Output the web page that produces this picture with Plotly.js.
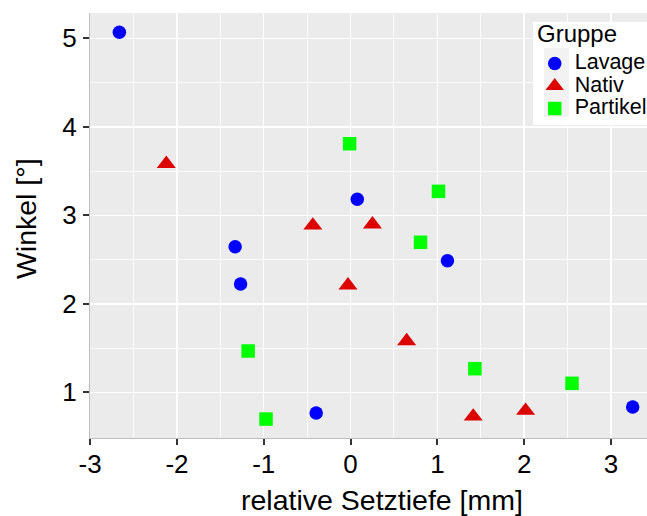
<!DOCTYPE html>
<html><head><meta charset="utf-8">
<script src="https://cdn.plot.ly/plotly-3.0.1.min.js"></script>
<style>body{margin:0;padding:0;background:#fff}#chart{width:647px;height:516px}</style>
</head><body><div id="chart"></div>
<script>
// Data
const groups = ["Lavage", "Nativ", "Partikel"];
const lavageX = [-2.664, -1.330, -1.267, 0.077, 1.116, -0.396, 3.250];
const lavageY = [5.068, 2.645, 2.224, 3.181, 2.487, 0.766, 0.834];
const nativX = [-2.123, -0.435, 0.252, -0.030, 0.646, 1.413, 2.016];
const nativY = [3.582, 2.886, 2.898, 2.209, 1.580, 0.728, 0.793];
const partikelX = [-0.011, 1.013, 0.806, -1.180, -0.974, 1.432, 2.551];
const partikelY = [3.809, 3.271, 2.695, 1.467, 0.698, 1.267, 1.102];
const xTicks = [-3, -2, -1, 0, 1, 2, 3];
const yTicks = [1, 2, 3, 4, 5];
const xTitle = "relative Setztiefe [mm]";
const yTitle = "Winkel [°]";
const legendTitle = "Gruppe";

const FONT = "Liberation Sans, Arial, sans-serif";
const lbl = s => '<span style="font-size:21.5px">' + s + '</span>';

const traces = [
  {x: lavageX, y: lavageY, name: lbl(groups[0]), type: "scatter", mode: "markers",
   marker: {symbol: "circle", size: 13.5, color: "#0000FF"}},
  {x: nativX, y: nativY, name: lbl(groups[1]), type: "scatter", mode: "markers",
   marker: {symbol: "triangle-up", size: 16.5, color: "#DD0000"}},
  {x: partikelX, y: partikelY, name: lbl(groups[2]), type: "scatter", mode: "markers",
   marker: {symbol: "square", size: 13.5, color: "#00FF00"}}
];

const axisCommon = {
  showgrid: true, gridcolor: "#FFFFFF", gridwidth: 1.4,
  zeroline: false,
  showline: true, linecolor: "#BDBDBD", linewidth: 1,
  ticks: "outside", ticklen: 6, tickwidth: 2, tickcolor: "#333333",
  tickfont: {family: FONT, size: 26, color: "#000000"},
  tickmode: "array"
};

const layout = {
  width: 647, height: 516,
  margin: {l: 90, r: 0, t: 13, b: 78, pad: 0, autoexpand: false},
  paper_bgcolor: "#FFFFFF", plot_bgcolor: "#EBEBEB",
  font: {family: FONT, color: "#000000"},
  xaxis: Object.assign({}, axisCommon, {
    range: [-3.002, 3.415], tickvals: xTicks, ticktext: xTicks.map(String),
    minor: {showgrid: true, gridcolor: "#FFFFFF", gridwidth: 0.8, tickvals: [-2.5,-1.5,-0.5,0.5,1.5,2.5], ticks: ""},
    ticklabelstandoff: -3
  }),
  yaxis: Object.assign({}, axisCommon, {
    range: [0.484, 5.286], tickvals: yTicks, ticktext: yTicks.map(String),
    minor: {showgrid: true, gridcolor: "#FFFFFF", gridwidth: 0.8, tickvals: [1.5,2.5,3.5,4.5], ticks: ""},
    ticklabelstandoff: 1
  }),
  annotations: [
    {text: xTitle, xref: "paper", yref: "paper", x: 0.525, y: -0.146, xanchor: "center", yanchor: "middle",
     showarrow: false, font: {family: FONT, size: 28.5, color: "#000"}},
    {text: yTitle, xref: "paper", yref: "paper", x: -0.116, y: 0.516, xanchor: "center", yanchor: "middle",
     textangle: -90, showarrow: false, font: {family: FONT, size: 28.5, color: "#000"}},
    {text: legendTitle, xref: "paper", yref: "paper", x: 0.7998, y: 0.9506, xanchor: "left", yanchor: "middle",
     showarrow: false, font: {family: FONT, size: 24, color: "#000"}}
  ],
  showlegend: true,
  legend: {
    xref: "container", yref: "container",
    x: 0.8265, y: 0.9085, xanchor: "left", yanchor: "top",
    bgcolor: "rgba(0,0,0,0)", borderwidth: 0,
    font: {family: FONT, size: 15, color: "#000"},
    tracegroupgap: 0, itemsizing: "trace"
  },
  shapes: [
    {type: "rect", xref: "paper", yref: "paper", x0: 0.7953, x1: 1.0, y0: 0.7365, y1: 0.9795,
     fillcolor: "#FFFFFF", line: {width: 0}, layer: "above"},
    {type: "rect", xref: "paper", yref: "paper", x0: 0.8151, x1: 0.86, y0: 0.7553, y1: 0.9176,
     fillcolor: "#F2F2F2", line: {width: 0}, layer: "above"}
  ]
};

Plotly.newPlot("chart", traces, layout, {displayModeBar: false, staticPlot: true});
</script>
</body></html>
